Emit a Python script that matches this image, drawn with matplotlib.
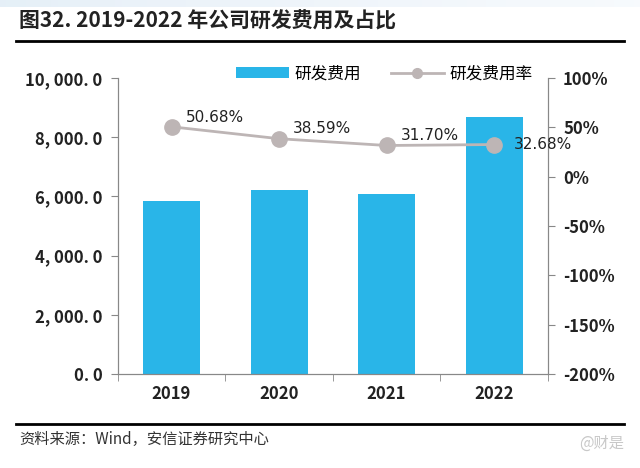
import numpy as np
import matplotlib
matplotlib.use("Agg")
import matplotlib.pyplot as plt
from matplotlib.lines import Line2D
from matplotlib.patches import Patch

plt.rcParams['font.family'] = ['Noto Sans CJK SC', 'DejaVu Sans']

years = ['2019', '2020', '2021', '2022']
rd_cost = [5850, 6220, 6080, 8690]       # 研发费用
rd_rate = [50.68, 38.59, 31.70, 32.68]   # 研发费用率 %
left_ticks = [0, 2000, 4000, 6000, 8000, 10000]
left_labels = ['0. 0', '2, 000. 0', '4, 000. 0', '6, 000. 0', '8, 000. 0', '10, 000. 0']
right_ticks = [-200, -150, -100, -50, 0, 50, 100]

bar_color = '#29B5E8'
line_color = '#BDB5B5'
axis_color = '#888888'

fig = plt.figure(figsize=(6.4, 4.68), dpi=100)

# faint blue band at the very top
band = fig.add_axes([0, 0.985, 1, 0.015])
band.imshow(np.linspace(0, 1, 100)[None, :], aspect='auto', cmap='Blues_r', vmin=-3, vmax=1.3, alpha=0.35)
band.axis('off')

ax = fig.add_axes([0.184, 0.201, 0.672, 0.632])
ax2 = ax.twinx()

x = np.arange(len(years))
ax.bar(x, rd_cost, width=0.53, color=bar_color, zorder=2)
ax.set_xlim(-0.5, len(years) - 0.5)
ax.set_ylim(0, 10000)
ax.set_yticks(left_ticks)
ax.set_yticklabels(left_labels, fontsize=12, fontweight='bold', color='#222222')
ax.set_xticks(x)
ax.set_xticklabels(years, fontsize=12, fontweight='bold', color='#222222')
ax.tick_params(axis='x', length=0, pad=8)
ax.set_xticks(np.arange(-0.5, len(years)), minor=True)
ax.tick_params(axis='x', which='minor', length=5, color=axis_color)
ax.tick_params(axis='y', length=5, color=axis_color, pad=6)

ax2.plot(x, rd_rate, color=line_color, lw=2, marker='o', ms=11, zorder=3)
ax2.set_ylim(-200, 100)
ax2.set_yticks(right_ticks)
ax2.set_yticklabels([f'{t}%' for t in right_ticks], fontsize=12, fontweight='bold', color='#222222')
ax2.tick_params(axis='y', length=5, color=axis_color, pad=6)

for xi, r in zip(x, rd_rate):
    ax2.annotate(f'{r:.2f}%', (xi, r), xytext=(10, 7) if xi < 3 else (14, 0),
                 textcoords='offset points', fontsize=11, color='#222222',
                 ha='left', va='center', family=['DejaVu Sans'])

for a in (ax, ax2):
    a.spines['top'].set_visible(False)
    for s in ('left', 'right', 'bottom'):
        a.spines[s].set_color(axis_color)

handles = [Patch(facecolor=bar_color, label='研发费用'),
           Line2D([0], [0], color=line_color, lw=2, marker='o', ms=7, label='研发费用率')]
fig.legend(handles=handles, loc='center', bbox_to_anchor=(0.6, 0.842), ncol=2,
           frameon=False, fontsize=12, handlelength=3.2, columnspacing=1.8, handletextpad=0.3)

# title and source
fig.text(0.03, 0.955, '图32. 2019-2022 年公司研发费用及占比', fontsize=15, fontweight='bold',
         color='#222222', va='center')
fig.add_artist(Line2D([0.025, 0.975], [0.913, 0.913], color='black', lw=2))
fig.add_artist(Line2D([0.025, 0.975], [0.093, 0.093], color='black', lw=2))
fig.text(0.03, 0.06, '资料来源：Wind，安信证券研究中心', fontsize=11, style='italic',
         color='#333333', va='center')
fig.text(0.975, 0.052, '@财是', fontsize=11, color='#C8C8C8', ha='right', va='center')

fig.savefig('out.png', dpi=100)
